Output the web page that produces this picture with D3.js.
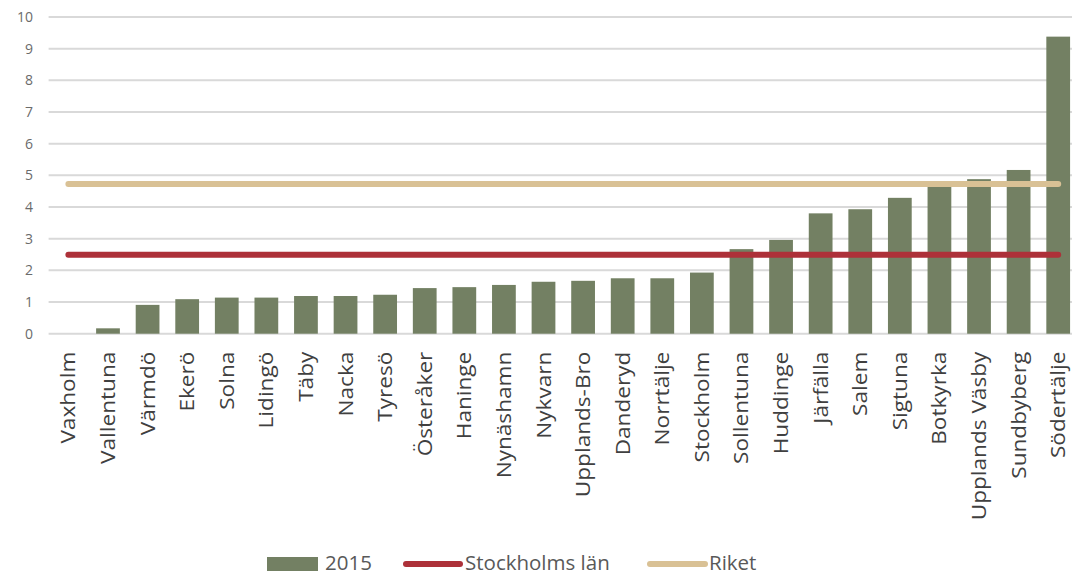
<!DOCTYPE html>
<html>
<head>
<meta charset="utf-8">
<script src="https://cdn.jsdelivr.net/npm/d3@7"></script>
<style>
html,body{margin:0;padding:0;background:#fff;}
svg{display:block;}
</style>
</head>
<body>
<svg id="chart" width="1072" height="576"></svg>
<script>
const categories = ["Vaxholm","Vallentuna","Värmdö","Ekerö","Solna","Lidingö","Täby","Nacka","Tyresö","Österåker","Haninge","Nynäshamn","Nykvarn","Upplands-Bro","Danderyd","Norrtälje","Stockholm","Sollentuna","Huddinge","Järfälla","Salem","Sigtuna","Botkyrka","Upplands Väsby","Sundbyberg","Södertälje"];
const values2015 = [0, 0.17, 0.91, 1.09, 1.14, 1.14, 1.19, 1.19, 1.23, 1.44, 1.47, 1.54, 1.64, 1.67, 1.75, 1.75, 1.93, 2.67, 2.96, 3.80, 3.93, 4.29, 4.68, 4.88, 5.17, 9.38];
const stockholmsLan = 2.49;
const riket = 4.73;
const yTicks = [0,1,2,3,4,5,6,7,8,9,10];
const seriesNames = ["2015","Stockholms län","Riket"];

const colors = {bar:"#738063", red:"#ad3139", beige:"#d9c195"};

const svg = d3.select("#chart");
const x = d3.scaleBand().domain(categories).range([48.6, 1078]).paddingInner(0.4).paddingOuter(0.2);
const y = d3.scaleLinear().domain([0,10]).range([333.7, 17]);

// gridlines
svg.append("g").selectAll("line").data(yTicks).join("line")
  .attr("x1", 48.6).attr("x2", 1078)
  .attr("y1", d => y(d)).attr("y2", d => y(d))
  .attr("stroke", "#d9d9d9").attr("stroke-width", 2);

// y axis labels
const yAxis = d3.axisLeft(y).tickValues(yTicks).tickSize(0).tickPadding(0);
const ya = svg.append("g").attr("transform","translate(33,0)").call(yAxis);
ya.select(".domain").remove();
ya.selectAll("text").attr("font-family","'Open Sans', sans-serif").attr("font-size","14px").attr("fill","#6b6b6b");

// bars
svg.append("g").selectAll("rect").data(categories).join("rect")
  .attr("x", d => x(d)).attr("width", x.bandwidth())
  .attr("y", (d,i) => y(values2015[i]))
  .attr("height", (d,i) => y(0) - y(values2015[i]))
  .attr("fill", colors.bar);

// reference lines
const first = categories[0], last = categories[categories.length-1];
[[riket, colors.beige],[stockholmsLan, colors.red]].forEach(([v,c]) => {
  svg.append("path")
    .attr("d", d3.line().x(d => x(d) + x.bandwidth()/2).y(() => y(v))([first,last]))
    .attr("stroke", c).attr("stroke-width", 6).attr("stroke-linecap","round").attr("fill","none");
});

// x axis labels
const stretch = 1.13;
const xAxis = d3.axisBottom(x).tickSize(0).tickPadding(0);
const xa = svg.append("g").attr("transform", `translate(0,${y(0)})`).call(xAxis);
xa.select(".domain").remove();
xa.selectAll("text")
  .attr("font-family","'Open Sans', sans-serif").attr("font-size","20px").attr("fill","#404040")
  .attr("text-anchor","end")
  .attr("transform",`rotate(-90) scale(${stretch},1)`)
  .attr("x", -18/stretch).attr("y", 0).attr("dy","0.35em");

// legend
const lg = svg.append("g").attr("font-family","'Open Sans', sans-serif").attr("font-size","20.5px").attr("fill","#595959");
lg.append("rect").attr("x",267).attr("y",557).attr("width",51).attr("height",14).attr("fill",colors.bar);
lg.append("text").attr("x",325).attr("y",570).text(seriesNames[0]);
lg.append("line").attr("x1",406).attr("x2",460).attr("y1",564).attr("y2",564).attr("stroke",colors.red).attr("stroke-width",6).attr("stroke-linecap","round");
lg.append("text").attr("x",465).attr("y",570).text(seriesNames[1]);
lg.append("line").attr("x1",650).attr("x2",705).attr("y1",564).attr("y2",564).attr("stroke",colors.beige).attr("stroke-width",6).attr("stroke-linecap","round");
lg.append("text").attr("x",709).attr("y",570).text(seriesNames[2]);
</script>
</body>
</html>
